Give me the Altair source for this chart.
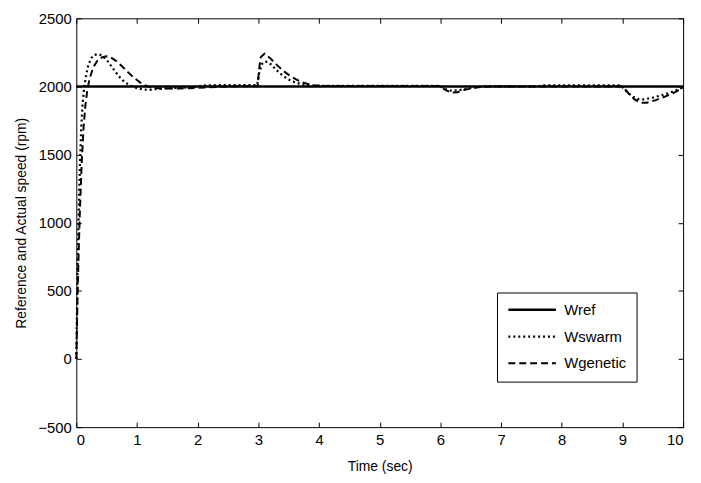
import altair as alt
import pandas as pd

series_names = ["Wref", "Wswarm", "Wgenetic"]

ref_t = [0, 10]
ref_w = [2000, 2000]

swarm_t = [0, 0.02, 0.04, 0.06, 0.08, 0.10, 0.12, 0.14, 0.17, 0.2, 0.25, 0.3, 0.36, 0.42, 0.5,
           0.6, 0.7, 0.8, 0.9, 1.0, 1.1, 1.2, 1.3, 1.5, 1.8, 1.95, 2.1, 2.5, 2.98, 3.02,
           3.06, 3.1, 3.15, 3.2, 3.3, 3.4, 3.5, 3.6, 3.7, 3.8, 3.9, 4.0, 5.0, 5.98, 6.05,
           6.12, 6.2, 6.3, 6.45, 6.6, 6.75, 7.0, 7.6, 7.7, 8.5, 8.97, 9.05, 9.15, 9.25, 9.35,
           9.5, 9.7, 9.85, 10.0]
swarm_w = [0, 620, 1080, 1420, 1680, 1850, 1950, 2020, 2100, 2160, 2210, 2232, 2237, 2228, 2195,
           2135, 2075, 2030, 2005, 1988, 1977, 1975, 1980, 1987, 1992, 1998, 2008, 2010, 2010, 2110,
           2165, 2182, 2180, 2165, 2120, 2080, 2050, 2030, 2018, 2010, 2006, 2005, 2005, 2005, 1988,
           1972, 1968, 1972, 1985, 1995, 2000, 2000, 2000, 2008, 2008, 2008, 1972, 1930, 1908, 1905,
           1918, 1942, 1965, 1995]

gen_t = [0, 0.02, 0.04, 0.06, 0.09, 0.12, 0.15, 0.18, 0.22, 0.28, 0.35, 0.42, 0.49, 0.56, 0.65,
         0.75, 0.85, 0.95, 1.05, 1.15, 1.25, 1.4, 1.7, 2.0, 2.5, 2.99, 3.01, 3.04, 3.1, 3.2,
         3.3, 3.4, 3.5, 3.6, 3.7, 3.8, 3.9, 4.0, 4.2, 6.0, 6.08, 6.18, 6.28, 6.4, 6.55,
         6.7, 6.85, 9.0, 9.1, 9.2, 9.3, 9.4, 9.55, 9.7, 9.85, 10.0]
gen_w = [0, 450, 800, 1100, 1450, 1700, 1860, 1970, 2060, 2140, 2190, 2213, 2222, 2215, 2190,
         2150, 2105, 2065, 2030, 2005, 1990, 1984, 1985, 1990, 2000, 2002, 2120, 2215, 2240, 2205,
         2160, 2118, 2085, 2058, 2035, 2020, 2010, 2005, 2003, 2003, 1975, 1955, 1958, 1975, 1990,
         1998, 2000, 2000, 1950, 1905, 1880, 1880, 1900, 1925, 1955, 1990]

x_ticks = list(range(0, 11))
y_ticks = list(range(-500, 2501, 500))

rows = []
for name, ts, ws in [("Wref", ref_t, ref_w), ("Wswarm", swarm_t, swarm_w), ("Wgenetic", gen_t, gen_w)]:
    for t, w in zip(ts, ws):
        rows.append({"series": name, "t": t, "w": w})
df = pd.DataFrame(rows)
df_ref = df[df.series == "Wref"]
df_other = df[df.series != "Wref"]

W, H = 613, 413
FONT = "Liberation Sans"

xs = alt.Scale(domain=[0, 10], nice=False, zero=False)
ys = alt.Scale(domain=[-500, 2500], nice=False, zero=False)
dash_scale = alt.Scale(domain=series_names, range=[[1, 0], [2, 3], [7, 4]])
width_scale = alt.Scale(domain=series_names, range=[2.5, 2, 2])

legend = alt.Legend(
    title=None, orient="none", legendX=425, legendY=277,
    symbolType="stroke", symbolSize=2304, symbolStrokeColor="black", clipHeight=15,
    labelFont=FONT, labelFontSize=15, labelColor="black", labelOffset=7,
    rowPadding=11, padding=10, fillColor="white", strokeColor="black",
)

x_main = alt.Axis(orient="bottom", values=x_ticks, tickSize=0, domain=False, grid=False,
                  labelPadding=6, format="d", title="Time (sec)", titlePadding=12)
y_main = alt.Axis(orient="left", values=y_ticks, tickSize=0, domain=False, grid=False,
                  labelPadding=5, format="d", title="Reference and Actual speed (rpm)",
                  titlePadding=10)

lines = alt.Chart(df_other).mark_line(color="black", strokeCap="butt").encode(
    x=alt.X("t:Q", scale=xs, axis=x_main),
    y=alt.Y("w:Q", scale=ys, axis=y_main),
    strokeDash=alt.StrokeDash("series:N", scale=dash_scale, legend=legend),
    strokeWidth=alt.StrokeWidth("series:N", scale=width_scale, legend=legend),
)

ref = alt.Chart(df_ref).mark_line(color="black", strokeCap="butt").encode(
    x=alt.X("t:Q", scale=xs, axis=None),
    y=alt.Y("w:Q", scale=ys, axis=None),
    strokeDash=alt.StrokeDash("series:N", scale=dash_scale, legend=legend),
    strokeWidth=alt.StrokeWidth("series:N", scale=width_scale, legend=legend),
)

def tick_axis(orient, offset, values):
    return alt.Axis(orient=orient, offset=offset, values=values, labels=False, tickSize=5,
                    domain=False, grid=False, title=None)

ticks_a = alt.Chart(df).mark_point(opacity=0).encode(
    x=alt.X("t:Q", scale=xs, axis=tick_axis("top", -H, x_ticks)),
    y=alt.Y("w:Q", scale=ys, axis=tick_axis("right", -W, y_ticks)),
)
ticks_b = alt.Chart(df).mark_point(opacity=0).encode(
    x=alt.X("t:Q", scale=xs, axis=tick_axis("bottom", -H, x_ticks)),
    y=alt.Y("w:Q", scale=ys, axis=tick_axis("left", -W, y_ticks)),
)

chart = alt.layer(lines, ref, ticks_a, ticks_b).resolve_axis(
    x="independent", y="independent"
).properties(
    width=W, height=H, autosize="none",
    padding={"left": 69, "top": 8, "right": 10, "bottom": 52},
).configure_view(
    stroke="black", strokeWidth=1
).configure_axis(
    labelFont=FONT, labelFontSize=15, labelColor="black",
    titleFont=FONT, titleFontSize=14, titleFontWeight="normal", titleColor="black",
    tickColor="black", tickWidth=1,
)

chart.save("out.html", embed_options={"renderer": "svg", "actions": False})
